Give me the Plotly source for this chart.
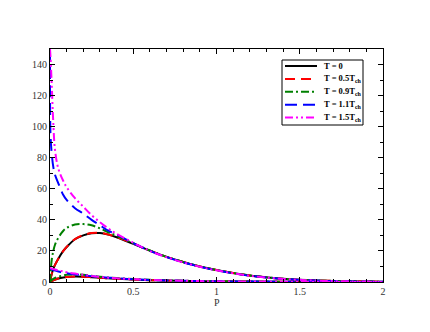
import plotly.graph_objects as go

# ---- data ----
p_grid = [0, 0.003, 0.01, 0.02, 0.03, 0.05, 0.08, 0.1, 0.15, 0.2, 0.25, 0.3, 0.35, 0.4,
          0.5, 0.6, 0.7, 0.8, 0.9, 1.0, 1.2, 1.4, 1.6, 1.8, 2.0]

series_names = ["<b>T = 0</b>", "<b>T = 0.5T<sub>ch</sub></b>", "<b>T = 0.9T<sub>ch</sub></b>",
                "<b>T = 1.1T<sub>ch</sub></b>", "<b>T = 1.5T<sub>ch</sub></b>"]

upper_T0 = [0, 1.8, 5, 8.5, 11, 15, 20, 22.5, 27.5, 30, 31.4, 31.5, 30.5, 28.8,
            24.6, 20.2, 16.2, 12.9, 10.0, 7.7, 4.2, 2.1, 1.0, 0.5, 0.2]
upper_T05 = [0, 1.8, 5, 8.5, 11, 15, 20, 22.6, 27.6, 30.2, 31.5, 31.6, 30.6, 28.9,
             24.7, 20.2, 16.2, 12.9, 10.0, 7.7, 4.2, 2.1, 1.0, 0.5, 0.2]
upper_T09 = [0, 5, 14, 20, 24, 28.5, 33, 34.8, 37, 37.3, 36.5, 34.5, 32, 29.8,
             25, 20.3, 16.2, 12.9, 10.0, 7.7, 4.2, 2.1, 1.0, 0.5, 0.2]
upper_T11 = [150, 95, 83, 74, 69, 63.5, 56, 52.8, 47.5, 44, 40, 36.5, 33, 30.5,
             25, 20, 16, 12.7, 9.8, 7.5, 4.0, 2.0, 0.9, 0.4, 0.2]
upper_T15 = [150, 145, 128, 102, 85, 73, 65, 61, 54, 48.5, 43, 38.5, 34.5, 31,
             25.3, 20, 16, 12.6, 9.8, 7.5, 4.0, 2.0, 0.9, 0.4, 0.2]

lower_T0 = [0, 0.2, 0.6, 1.1, 1.5, 2.2, 2.9, 3.2, 3.5, 3.4, 3.1, 2.8, 2.4, 2.1,
            1.6, 1.2, 0.9, 0.7, 0.5, 0.4, 0.25, 0.15, 0.1, 0.05, 0.03]
lower_T05 = [0, 0.2, 0.6, 1.1, 1.5, 2.2, 2.9, 3.2, 3.5, 3.4, 3.1, 2.8, 2.4, 2.1,
             1.6, 1.2, 0.9, 0.7, 0.5, 0.4, 0.25, 0.15, 0.1, 0.05, 0.03]
lower_T09 = [0, 0.5, 1.2, 2.0, 2.6, 3.4, 4.3, 4.7, 4.9, 4.6, 4.0, 3.4, 2.9, 2.5,
             1.9, 1.4, 1.0, 0.8, 0.6, 0.45, 0.3, 0.2, 0.1, 0.06, 0.03]
lower_T11 = [9, 8.8, 8.2, 7.8, 7.4, 6.7, 6.0, 5.6, 4.9, 4.3, 3.7, 3.2, 2.8, 2.4,
             1.8, 1.3, 1.0, 0.8, 0.6, 0.45, 0.3, 0.2, 0.1, 0.06, 0.03]
lower_T15 = [9, 8.9, 8.6, 8.3, 8.0, 7.5, 6.8, 6.3, 5.4, 4.6, 3.9, 3.3, 2.8, 2.4,
             1.8, 1.3, 1.0, 0.8, 0.6, 0.45, 0.3, 0.2, 0.1, 0.06, 0.03]

x_ticks = [0, 0.5, 1, 1.5, 2]
x_tick_labels = ["0", "0.5", "1", "1.5", "2"]
y_ticks = [0, 20, 40, 60, 80, 100, 120, 140]
x_title = "P"

uppers = [upper_T0, upper_T05, upper_T09, upper_T11, upper_T15]
lowers = [lower_T0, lower_T05, lower_T09, lower_T11, lower_T15]
colors = ["black", "#ff0000", "#008000", "#0000ff", "#ff00ff"]
dashes = ["solid", "10px,6px", "8px,3px,2px,3px", "12px,6px", "8px,3px,2px,3px,2px,3px"]

# ---- layout geometry (pixels) ----
W, H = 430, 332
L, R, T, B = 50, 47, 49, 50
PW, PH = W - L - R, H - T - B


def px_x(px):
    return (px - L) / PW


def px_y(py):
    return (H - B - py) / PH


fig = go.Figure()
for i in range(5):
    line = dict(color=colors[i], width=2, dash=dashes[i])
    fig.add_trace(go.Scatter(x=p_grid, y=uppers[i], mode="lines", line=line,
                             name=series_names[i], legendgroup=str(i), showlegend=False,
                             line_shape="spline"))
    fig.add_trace(go.Scatter(x=p_grid, y=lowers[i], mode="lines", line=line,
                             name=series_names[i], legendgroup=str(i), showlegend=False,
                             line_shape="spline"))

font_family = "Liberation Serif, Times New Roman, serif"
tick_font = dict(family=font_family, size=10, color="#333333")

# ---- compact legend (box, samples, labels) ----
shapes = [dict(type="rect", xref="paper", yref="paper",
               x0=px_x(282), x1=px_x(363), y0=px_y(125), y1=px_y(60),
               line=dict(color="black", width=1), fillcolor="white", layer="above")]
annotations = []
row0, step = 66, 12.9
for i in range(5):
    yy = row0 + i * step
    shapes.append(dict(type="line", xref="paper", yref="paper",
                       x0=px_x(285), x1=px_x(317), y0=px_y(yy), y1=px_y(yy),
                       line=dict(color=colors[i], width=2, dash=dashes[i]), layer="above"))
    annotations.append(dict(xref="paper", yref="paper", x=px_x(322), y=px_y(yy - 0.5),
                            xanchor="left", yanchor="middle", showarrow=False,
                            text=series_names[i],
                            font=dict(family=font_family, size=8.5, color="black")))

annotations.append(dict(xref="paper", yref="paper", x=0.5, y=px_y(302),
                        xanchor="center", yanchor="middle", showarrow=False,
                        text=x_title, font=tick_font))

fig.update_layout(
    width=W, height=H,
    margin=dict(l=L, r=R, t=T, b=B),
    paper_bgcolor="white", plot_bgcolor="white",
    font=tick_font,
    showlegend=False,
    shapes=shapes, annotations=annotations,
    xaxis=dict(range=[0, 2], tickvals=x_ticks, ticktext=x_tick_labels,
               showgrid=False, zeroline=False, showline=True, linecolor="black",
               linewidth=1, mirror="allticks", ticks="inside", ticklen=5,
               tickcolor="black", tickfont=tick_font,
               minor=dict(dtick=0.1, ticks="inside", ticklen=3, tickcolor="black")),
    yaxis=dict(range=[0, 150], tickvals=y_ticks,
               showgrid=False, zeroline=False, showline=True, linecolor="black",
               linewidth=1, mirror="allticks", ticks="inside", ticklen=5,
               tickcolor="black", tickfont=tick_font,
               minor=dict(dtick=10, ticks="inside", ticklen=3, tickcolor="black")),
)

fig.write_html("out.html", config={"displayModeBar": False},
               post_script="document.body.style.margin='0';document.body.style.padding='0';")
